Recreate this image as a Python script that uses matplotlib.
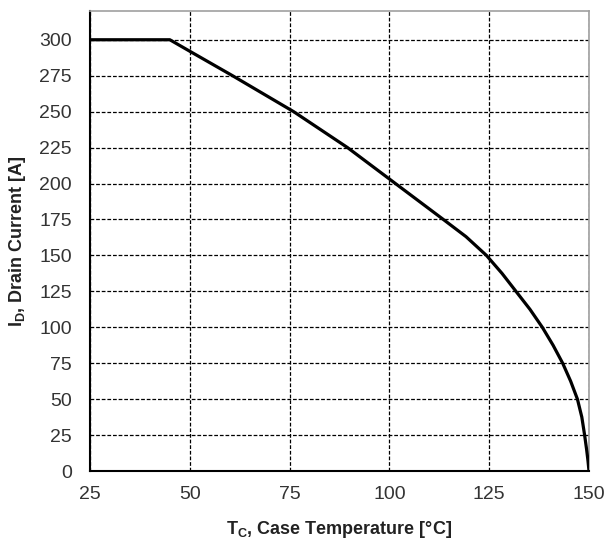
import matplotlib.pyplot as plt

# derating curve
temp = [25, 45, 50, 60.7, 76, 89.5, 101.5, 113.5, 119.2, 124.3, 128.2, 131.7, 135.2, 138.3,
        141.0, 143.4, 145.4, 147.1, 148.2, 148.9, 149.4, 149.75, 150]
current = [300, 300, 292, 275, 250, 225, 200, 175, 163, 150, 137.5, 125, 112.5, 100,
           87.5, 75, 62.5, 50, 37.5, 25, 15, 7, 0]

xticks = [25, 50, 75, 100, 125, 150]
yticks = [0, 25, 50, 75, 100, 125, 150, 175, 200, 225, 250, 275, 300]

plt.rcParams['font.family'] = ['Liberation Sans', 'DejaVu Sans']

fig = plt.figure(figsize=(6.09, 5.4), dpi=100)
ax = fig.add_axes([90 / 609, 1 - 471 / 540, 499 / 609, 460 / 540])

ax.plot(temp, current, color='black', linewidth=2.3, solid_joinstyle='round', zorder=3)

ax.set_xlim(25, 150)
ax.set_ylim(0, 320)
ax.set_xticks(xticks)
ax.set_yticks(yticks)
ax.tick_params(length=0, labelsize=14, labelcolor='#333333')
ax.tick_params(axis='y', pad=13)
ax.tick_params(axis='x', pad=11)
ax.grid(True, color='black', linestyle=(0, (3, 1.5)), linewidth=0.9)
ax.set_axisbelow(True)

for s in ['top', 'right']:
    ax.spines[s].set_color('#a0a0a0')
    ax.spines[s].set_linewidth(1.2)
for s in ['left', 'bottom']:
    ax.spines[s].set_color('black')
    ax.spines[s].set_linewidth(1.5)

ax.set_xlabel('T$_\\mathregular{C}$, Case Temperature [°C]', fontsize=13, fontweight='bold',
              color='#222222', labelpad=11)
ax.set_ylabel('I$_\\mathregular{D}$, Drain Current [A]', fontsize=13, fontweight='bold',
              color='#222222', labelpad=8)

fig.savefig('out.png', dpi=100)
